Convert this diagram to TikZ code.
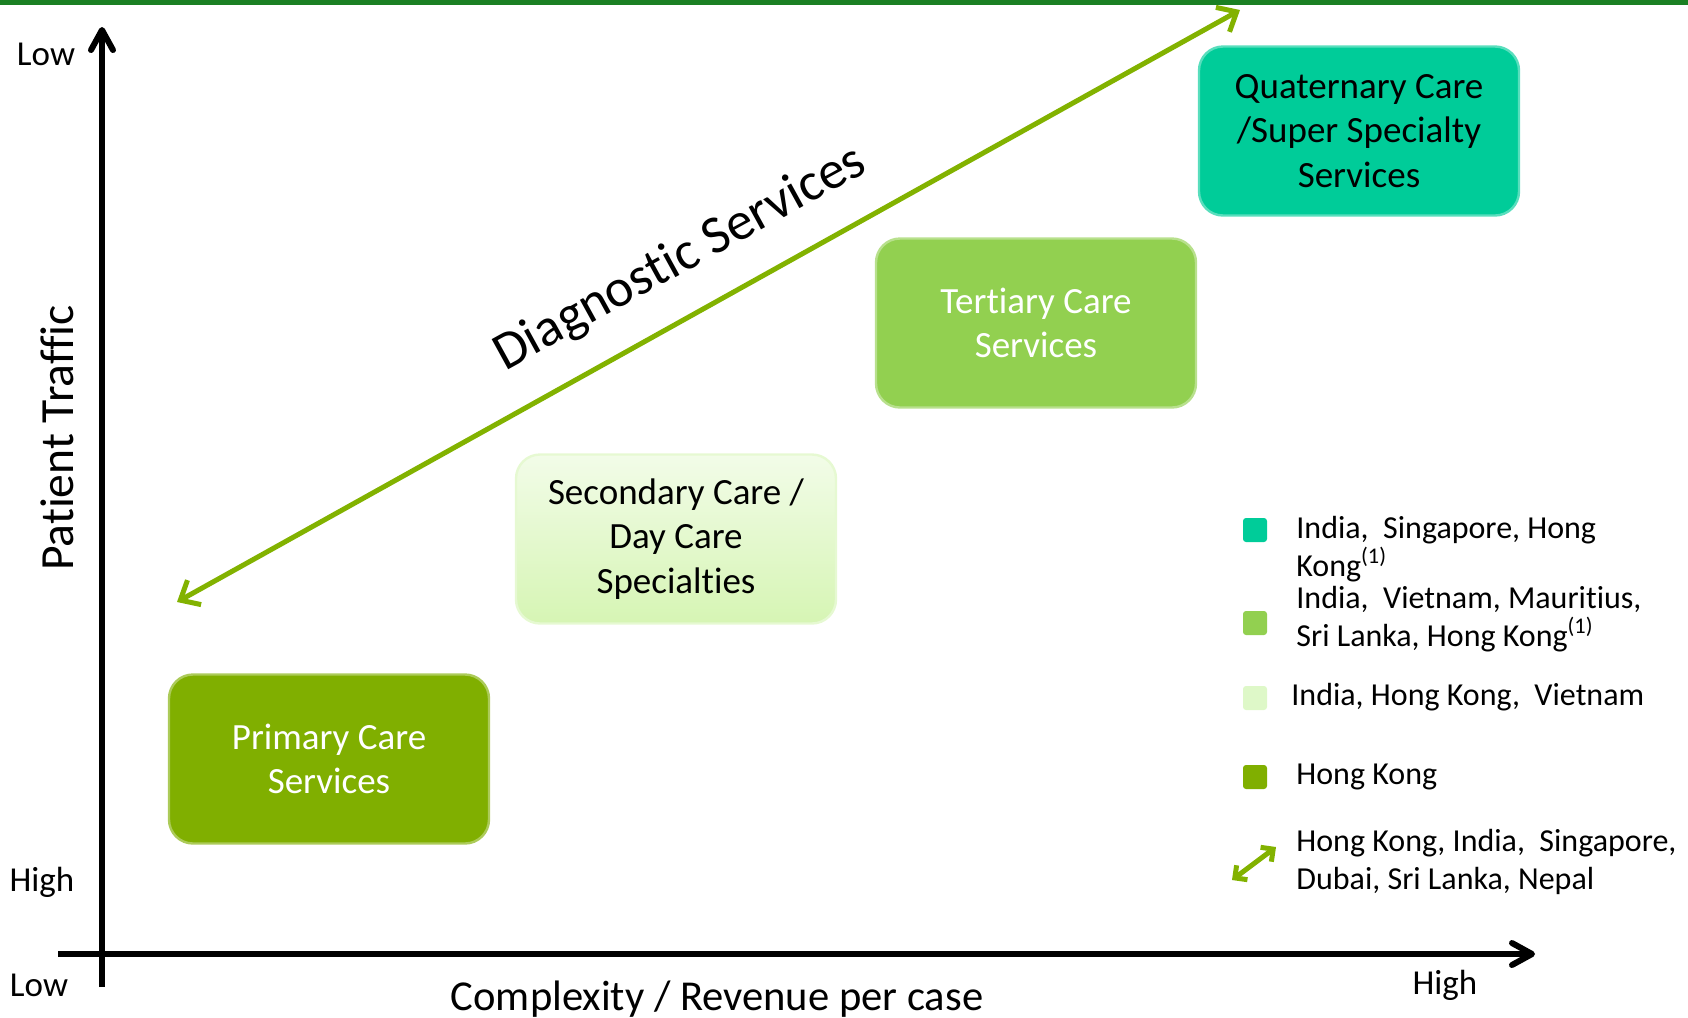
\documentclass[tikz,border=0pt]{standalone}
\usepackage{fontspec}
\setmainfont{Carlito}[Ligatures=NoCommon]
\usetikzlibrary{arrows.meta}
\definecolor{topbar}{RGB}{27,128,35}
\definecolor{quatcol}{RGB}{0,204,153}
\definecolor{tertcol}{RGB}{146,208,80}
\definecolor{primcol}{RGB}{128,175,0}
\definecolor{arrowcol}{RGB}{130,178,0}
\definecolor{sectop}{RGB}{242,252,232}
\definecolor{secbot}{RGB}{214,245,180}
\definecolor{seclegend}{RGB}{222,248,200}
\begin{document}
\begin{tikzpicture}[x=0.5pt,y=-0.5pt,
  boxnode/.style={rounded corners=12pt, minimum width=160pt, minimum height=84.5pt,
    align=center, inner sep=0pt, font=\fontsize{18.5pt}{22.3pt}\selectfont},
  legsq/.style={minimum size=12pt, inner sep=0pt, rounded corners=1.5pt},
  legtext/.style={anchor=west, align=left, inner sep=0pt, font=\fontsize{16pt}{19pt}\selectfont},
  axislab/.style={inner sep=0pt, font=\fontsize{17.5pt}{20pt}\selectfont},
  axisline/.style={line width=3pt, -{Straight Barb[length=10pt,width=11pt,round]}},
  diagarrow/.style={line width=2.5pt, draw=arrowcol,
    {Straight Barb[length=8pt,width=14pt]}-{Straight Barb[length=8pt,width=14pt]}},
  legarrow/.style={line width=2.5pt, draw=arrowcol,
    {Straight Barb[length=4.5pt,width=9pt]}-{Straight Barb[length=4.5pt,width=9pt]}}
]
\useasboundingbox (0,0) rectangle (1688,1018);
\fill[topbar] (0,0) rectangle (1688,5);

% axes
\coordinate (yb) at (102,987);
\coordinate (yt) at (102,27);
\coordinate (xl) at (58,954);
\coordinate (xr) at (1535,954);
\draw[axisline] (yb) -- (yt);
\draw[axisline] (xl) -- (xr);

% axis labels
\node[axislab] (lowtop) at (46,54) {Low};
\node[axislab] (highleft) at (42,882) {High};
\node[axislab] (lowbot) at (39,985) {Low};
\node[axislab] (highright) at (1445,985) {High};
\node[inner sep=0pt, font=\fontsize{21.3pt}{24pt}\selectfont] (xlab) at (717,999) {Complexity / Revenue per case};
\node[inner sep=0pt, rotate=90, font=\fontsize{23.8pt}{27pt}\selectfont] (ylab) at (57,438) {Patient Traffic};

% diagonal arrow
\coordinate (dA) at (177,602);
\coordinate (dB) at (1240,10);
\draw[diagarrow] (dA) -- (dB);
\node[inner sep=0pt, anchor=base, rotate=28.8, font=\fontsize{26.8pt}{30pt}\selectfont] (diag) at (687,271) {Diagnostic Services};

% boxes
\node[boxnode, fill=quatcol, draw=quatcol!65, line width=1.2pt] (quat) at (1359,131) {Quaternary Care\\/Super Specialty\\Services};
\node[boxnode, fill=tertcol, draw=tertcol!65, line width=1.2pt, text=white] (tert) at (1036,323) {Tertiary Care\\Services};
\node[boxnode, top color=sectop, bottom color=secbot, draw=secbot!60, line width=1.2pt] (sec) at (676,539) {Secondary Care /\\Day Care\\Specialties};
\node[boxnode, fill=primcol, draw=primcol!65, line width=1.2pt, text=white] (prim) at (329,759) {Primary Care\\Services};

% legend
\node[legsq, fill=quatcol] (sq1) at (1255,530) {};
\node[legsq, fill=tertcol] (sq2) at (1255,623) {};
\node[legsq, fill=seclegend] (sq3) at (1255,698) {};
\node[legsq, fill=primcol] (sq4) at (1255,777) {};
\coordinate (la) at (1232,880);
\coordinate (lb) at (1276,847);
\draw[legarrow] (la) -- (lb);

\node[legtext] (t1) at (1296,549) {India,\ \ Singapore, Hong\\Kong\textsuperscript{(1)}};
\node[legtext] (t2) at (1296,619) {India,\ \ Vietnam, Mauritius,\\Sri Lanka, Hong Kong\textsuperscript{(1)}};
\node[legtext] (t3) at (1291,697) {India, Hong Kong,\ \ Vietnam};
\node[legtext] (t4) at (1296,777) {Hong Kong};
\node[legtext] (t5) at (1296,861.5) {Hong Kong, India,\ \ Singapore,\\Dubai, Sri Lanka, Nepal};
\end{tikzpicture}
\end{document}
